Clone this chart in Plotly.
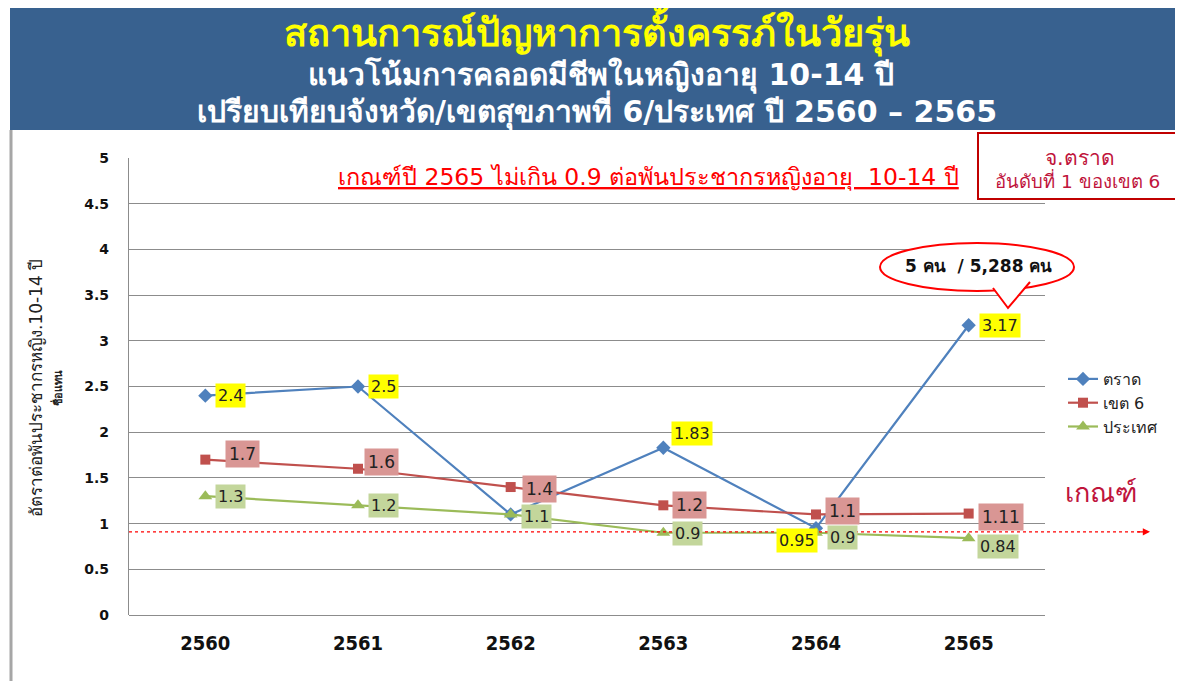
import plotly.graph_objects as go

years = ["2560", "2561", "2562", "2563", "2564", "2565"]
trat = [2.4, 2.5, 1.1, 1.83, 0.95, 3.17]
region6 = [1.7, 1.6, 1.4, 1.2, 1.1, 1.11]
country = [1.3, 1.2, 1.1, 0.9, 0.9, 0.84]
trat_labels = ["2.4", "2.5", None, "1.83", "0.95", "3.17"]
region6_labels = ["1.7", "1.6", "1.4", "1.2", "1.1", "1.11"]
country_labels = ["1.3", "1.2", "1.1", "0.9", "0.9", "0.84"]
criterion = 0.91
y_ticks = [0, 0.5, 1, 1.5, 2, 2.5, 3, 3.5, 4, 4.5, 5]

OFF = 8  # page body margin
W, H = 1183 - OFF, 681 - OFF
L, R, T, B = 129, 1045, 158, 615  # plot area in window pixels
FONT = "Tahoma, DejaVu Sans, sans-serif"


def px(x):
    return (x - L) / (R - L)


def py(y):
    return (B - y) / (B - T)


def text_ann(x, y, text, size, color, angle=0, bold=False):
    t = f"<b>{text}</b>" if bold else text
    return dict(xref="paper", yref="paper", x=px(x), y=py(y), text=t, showarrow=False,
                xanchor="center", yanchor="middle", textangle=angle,
                font=dict(family=FONT, size=size, color=color))


fig = go.Figure()
fig.add_trace(go.Scatter(x=years, y=trat, name="ตราด", mode="lines+markers",
                         line=dict(color="#4f81bd", width=2.2),
                         marker=dict(symbol="diamond", size=11, color="#4f81bd")))
fig.add_trace(go.Scatter(x=years, y=region6, name="เขต 6", mode="lines+markers",
                         line=dict(color="#c0504d", width=2.2),
                         marker=dict(symbol="square", size=10, color="#c0504d")))
fig.add_trace(go.Scatter(x=years, y=country, name="ประเทศ", mode="lines+markers",
                         line=dict(color="#9bbb59", width=2.2),
                         marker=dict(symbol="triangle-up", size=12, color="#9bbb59")))

ann = []
shapes = []

# data labels (x as category index)
trat_off = [(10, 0, "left"), (10, 0, "left"), None, (8, 14, "left"), (2, -12, "right"), (10, 0, "left")]
for i, (lab, off) in enumerate(zip(trat_labels, trat_off)):
    if lab is None:
        continue
    ann.append(dict(x=i, y=trat[i], text=lab, showarrow=False, xanchor=off[2], yanchor="middle",
                    xshift=off[0], yshift=off[1], bgcolor="#ffff00", borderpad=2,
                    font=dict(family="DejaVu Sans", size=16, color="#222")))
reg_off = [(20, 6), (6, 7), (11, -2), (9, 0), (9, 3), (9, -3)]
for i, lab in enumerate(region6_labels):
    ann.append(dict(x=i, y=region6[i], text=lab, showarrow=False, xanchor="left", yanchor="middle",
                    xshift=reg_off[i][0], yshift=reg_off[i][1], bgcolor="#d99694", borderpad=3,
                    font=dict(family="DejaVu Sans", size=17, color="#222")))
cty_off = [(10, 0), (10, 0), (10, -2), (9, -1), (11, -5), (8, -8)]
for i, lab in enumerate(country_labels):
    ann.append(dict(x=i, y=country[i], text=lab, showarrow=False, xanchor="left", yanchor="middle",
                    xshift=cty_off[i][0], yshift=cty_off[i][1], bgcolor="#c3d69b", borderpad=2,
                    font=dict(family="DejaVu Sans", size=16, color="#222")))

# header band
shapes.append(dict(type="rect", xref="paper", yref="paper", x0=px(10), x1=px(1190),
                   y0=py(130), y1=py(6), fillcolor="#38618f", line=dict(width=0), layer="below"))
# left border
shapes.append(dict(type="line", xref="paper", yref="paper", x0=px(11), x1=px(11),
                   y0=py(690), y1=py(130), line=dict(color="#a6a6a6", width=3)))
ann.append(text_ann(597, 31, "สถานการณ์ปัญหาการตั้งครรภ์ในวัยรุ่น", 38, "#ffff00", bold=True))
ann.append(text_ann(601, 75, "แนวโน้มการคลอดมีชีพในหญิงอายุ 10-14 ปี", 30, "white", bold=True))
ann.append(text_ann(597, 110, "เปรียบเทียบจังหวัด/เขตสุขภาพที่ 6/ประเทศ ปี 2560 – 2565", 30, "white", bold=True))

# criterion text
ann.append(text_ann(648, 177, "<u>เกณฑ์ปี 2565 ไม่เกิน 0.9 ต่อพันประชากรหญิงอายุ  10-14 ปี</u>", 23.5, "#ff0000"))

# top-right box
shapes.append(dict(type="rect", xref="paper", yref="paper", x0=px(978), x1=px(1180),
                   y0=py(199), y1=py(133), fillcolor="white", line=dict(color="#c00000", width=2)))
ann.append(text_ann(1080, 158, "จ.ตราด", 21, "#c0143c"))
ann.append(text_ann(1077, 180, "อันดับที่ 1 ของเขต 6", 18.5, "#c0143c"))

# callout ellipse
shapes.append(dict(type="circle", xref="paper", yref="paper", x0=px(880), x1=px(1074),
                   y0=py(291), y1=py(243), fillcolor="white", line=dict(color="#ff0000", width=2)))
shapes.append(dict(type="path", xref="paper", yref="paper",
                   path=f"M {px(993)} {py(287)} L {px(1008)} {py(308)} L {px(1030)} {py(281)} Z",
                   fillcolor="white", line=dict(width=0)))
shapes.append(dict(type="path", xref="paper", yref="paper",
                   path=f"M {px(993)} {py(288)} L {px(1008)} {py(308)} L {px(1030)} {py(282)}",
                   line=dict(color="#ff0000", width=2)))
ann.append(text_ann(978, 266, "5 คน  / 5,288 คน", 17, "#111", bold=True))

# criterion line
shapes.append(dict(type="line", xref="paper", yref="y", x0=0, x1=px(1142), y0=criterion, y1=criterion,
                   line=dict(color="#ff0000", width=1.2, dash="dot")))
ann.append(dict(xref="paper", yref="y", x=px(1150), y=criterion, text="", showarrow=True,
                axref="pixel", ayref="pixel", ax=-14, ay=0, arrowhead=2, arrowsize=1.2,
                arrowwidth=1.2, arrowcolor="#ff0000"))
ann.append(text_ann(1101, 492, "เกณฑ์", 27, "#c0143c"))

# y-axis title
ann.append(text_ann(36, 388, "อัตราต่อพันประชากรหญิง.10-14 ปี", 17, "#222", angle=-90))
ann.append(text_ann(57, 388, "ชื่อแทน", 11, "#222", angle=-90, bold=True))

fig.update_layout(
    width=W, height=H,
    margin=dict(l=L - OFF, r=W - (R - OFF), t=T - OFF, b=H - (B - OFF), pad=0),
    paper_bgcolor="white", plot_bgcolor="white",
    annotations=ann, shapes=shapes,
    legend=dict(x=px(1063), y=py(362), xanchor="left", yanchor="top",
                font=dict(family=FONT, size=16, color="#222"), bgcolor="rgba(0,0,0,0)",
                tracegroupgap=2, itemwidth=30),
    showlegend=True,
)
fig.update_xaxes(type="category", range=[-0.5, 5.5], showgrid=False, showline=False, zeroline=False,
                 tickvals=years, ticktext=[f"<b>{y}</b>" for y in years],
                 tickfont=dict(family="Liberation Sans Narrow, DejaVu Sans Condensed, DejaVu Sans", size=20, color="#111"),
                 ticklabelstandoff=14, ticks="")
fig.update_yaxes(range=[0, 5], tickvals=y_ticks, ticktext=[f"<b>{v:g}</b>" for v in y_ticks],
                 showgrid=True, gridcolor="#8c8c8c", gridwidth=1.2, zeroline=True, zerolinecolor="#8c8c8c",
                 zerolinewidth=1.2, showline=True, linecolor="#8c8c8c", linewidth=1.2,
                 tickfont=dict(family="DejaVu Sans", size=14, color="#111"), ticklabelstandoff=16, ticks="")

fig.write_html("out.html")
